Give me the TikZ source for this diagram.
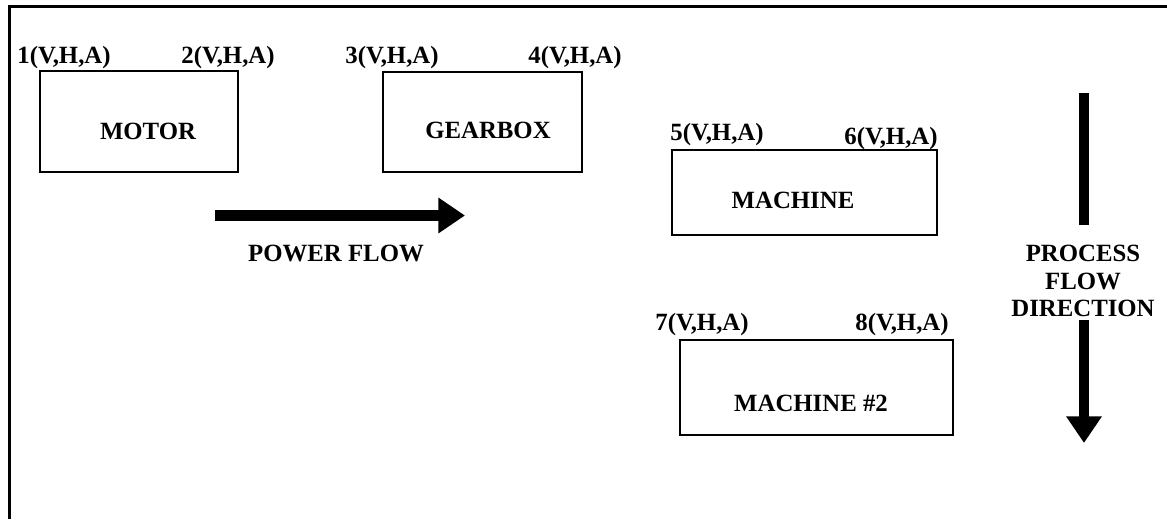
\documentclass[tikz,border=0pt]{standalone}
\usepackage{fontspec}
\setmainfont{Liberation Serif}
\usetikzlibrary{arrows.meta}

\begin{document}
\begin{tikzpicture}[x=0.75pt, y=-0.75pt,
        unit/.style={draw, line width=1.5pt, inner sep=0pt},
        tag/.style={font=\fontsize{18.6}{20.6}\selectfont\bfseries, inner sep=0pt, yshift=-1.5pt},
        flow/.style={line width=8pt, -{Triangle[length=20pt, width=25.5pt]}}]
    \useasboundingbox (0,0) rectangle (1167,519);
    \draw[line width=2.25pt] (9,519) -- (9,6) -- (1167,6);

    % units of the drive train
    \node[unit, minimum width=148.5pt, minimum height=75.75pt] (motor) at (139,121.5) {};
    \node[unit, minimum width=149.25pt, minimum height=75pt] (gearbox) at (482.5,122) {};
    \node[unit, minimum width=198.75pt, minimum height=63.75pt] (machine) at (804.5,192.5) {};
    \node[unit, minimum width=204.75pt, minimum height=71.25pt] (machinetwo) at (816.5,387.5) {};

    \node[tag] (motortxt) at (148,129) {MOTOR};
    \node[tag] (gearboxtxt) at (488,128) {GEARBOX};
    \node[tag] (machinetxt) at (793,198) {MACHINE};
    \node[tag] (machinetwotxt) at (811,401) {MACHINE \#2};

    % measuring points
    \node[tag] (p1) at (64,56) {1(V,H,A)};
    \node[tag] (p2) at (228,56) {2(V,H,A)};
    \node[tag] (p3) at (392,56) {3(V,H,A)};
    \node[tag] (p4) at (575,56) {4(V,H,A)};
    \node[tag] (p5) at (717,133) {5(V,H,A)};
    \node[tag] (p6) at (891,137) {6(V,H,A)};
    \node[tag] (p7) at (702,323) {7(V,H,A)};
    \node[tag] (p8) at (902,323) {8(V,H,A)};

    % power flow
    \coordinate (pwstart) at (215,215.5);
    \coordinate (pwend) at (465,215.5);
    \draw[flow] (pwstart) -- (pwend);
    \node[tag] (pwtxt) at (336,251) {POWER FLOW};

    % process flow
    \node[tag, align=center] (proctxt) at (1083,279) {PROCESS\\FLOW\\DIRECTION};
    \coordinate (prtop) at (1084,93);
    \coordinate (prmid) at (1084,225);
    \coordinate (prstart) at (1084,320);
    \coordinate (prend) at (1084,443);
    \draw[line width=7.5pt] (prtop) -- (prmid);
    \draw[flow, line width=7.5pt] (prstart) -- (prend);
\end{tikzpicture}
\end{document}
